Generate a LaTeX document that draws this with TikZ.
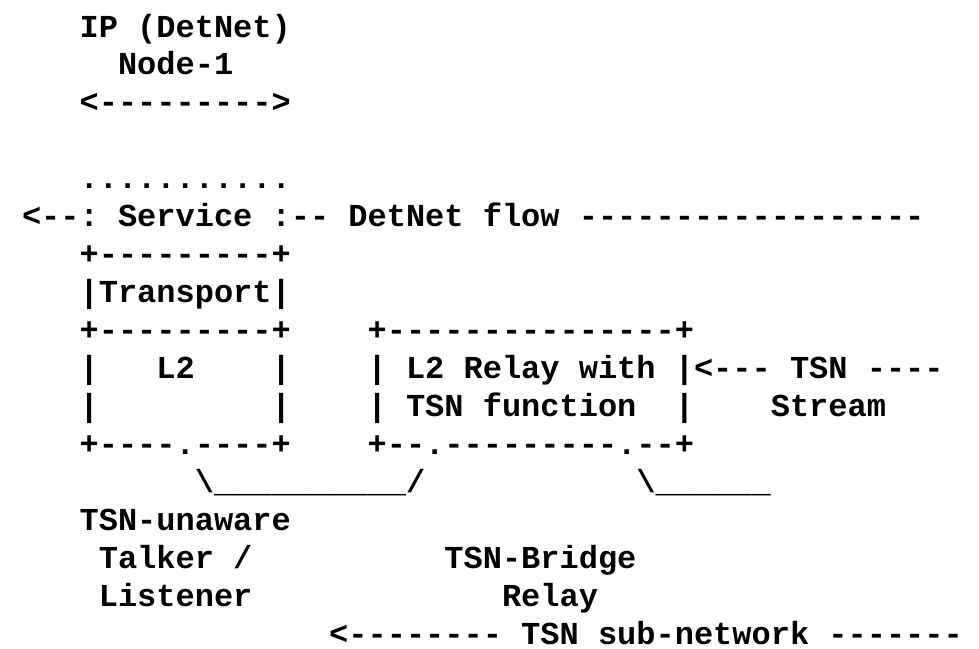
\documentclass[tikz,border=0pt]{standalone}
\usepackage{fontspec}
\setmonofont{Liberation Mono}
\tikzset{
    ascii/.style={font=\ttfamily\bfseries\fontsize{32pt}{38pt}\selectfont\frenchspacing,
        inner sep=0pt,text depth=0pt,anchor=base west}
}
\newcommand{\bsl}{\textbackslash}

\begin{document}
\begin{tikzpicture}[x=19.2pt,y=-37.94pt]

\fill[white] (-21.8pt,37pt) rectangle (957.2pt,-611pt);
\useasboundingbox (-21.8pt,37pt) rectangle (957.2pt,-611pt);

% ========= IP (DetNet) Node =========
\node[ascii] (IP) at (3,0) {IP (DetNet)};
\node[ascii] (N1) at (5,1) {Node-1};
\node[ascii] (SPAN) at (3,2) {<--------->};

% ========= DetNet flow =========
\node[ascii] (DOTS) at (3,4) {...........};
\node[ascii] (FLOW) at (0,5) {<--: Service :-- DetNet flow ------------------};

% == Talker / Listener stack ==%
\node[ascii] (TRT) at (3,6) {+---------+};
\node[ascii] (TR) at (3,7) {|Transport|};
\node[ascii] (TRB) at (3,8) {+---------+};
\node[ascii] (L2a) at (3,9) {|};
\node[ascii] (L2) at (7,9) {L2};
\node[ascii] (L2b) at (13,9) {|};
\node[ascii] (L2c) at (3,10) {|};
\node[ascii] (L2d) at (13,10) {|};
\node[ascii] (L2B) at (3,11) {+----.----+};

% == TSN bridge ==%
\node[ascii] (RLT) at (18,8) {+---------------+};
\node[ascii] (RLa) at (18,9) {|};
\node[ascii] (RL) at (20,9) {L2 Relay with};
\node[ascii] (RLb) at (18,10) {|};
\node[ascii] (TSNF) at (20,10) {TSN function};
\node[ascii] (RLc) at (34,10) {|};
\node[ascii] (RLB) at (18,11) {+--.---------.--+};

% == TSN Stream ==%
\node[ascii] (STR) at (34,9) {|<--- TSN ----};
\node[ascii] (STRM) at (39,10) {Stream};

% ========= Links =========
\node[ascii] (LINK) at (9,12) {\bsl\_\_\_\_\_\_\_\_\_\_/};
\node[ascii] (TAIL) at (32,12) {\bsl\_\_\_\_\_\_};

% ========= Labels =========
\node[ascii] (TL1) at (3,13) {TSN-unaware};
\node[ascii] (TL2) at (4,14) {Talker /};
\node[ascii] (TL3) at (4,15) {Listener};
\node[ascii] (BR1) at (22,14) {TSN-Bridge};
\node[ascii] (BR2) at (25,15) {Relay};
\node[ascii] (SUB) at (16,16) {<-------- TSN sub-network -------};

\end{tikzpicture}
\end{document}
